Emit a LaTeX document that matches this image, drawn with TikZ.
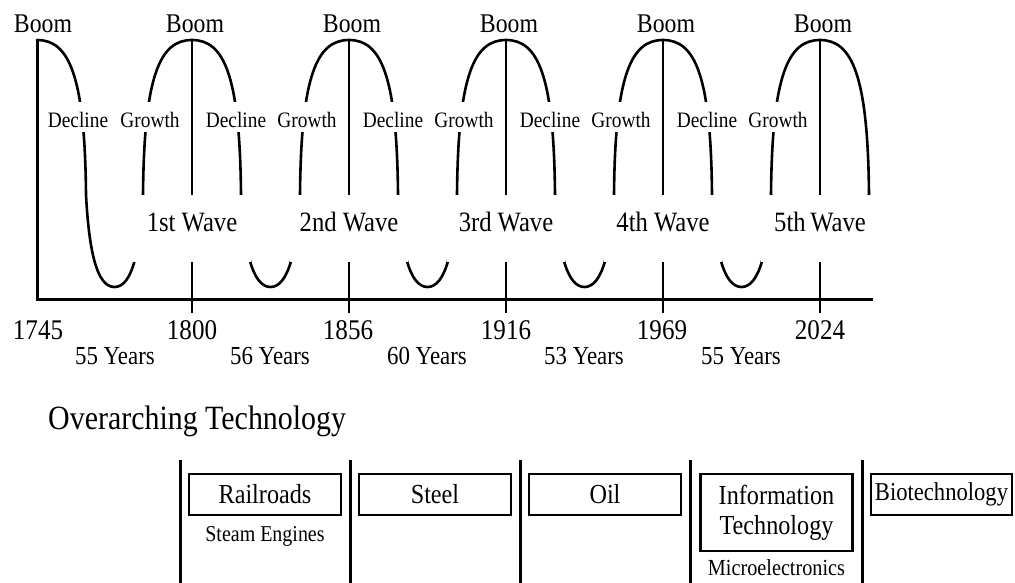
\documentclass[tikz,border=0pt]{standalone}
\usepackage{fontspec}
\setmainfont{Liberation Serif}[FakeStretch=0.88]
\usepackage{tikz}
\usetikzlibrary{positioning}

\begin{document}
\begin{tikzpicture}[x=1pt, y=-1pt,
  wline/.style={line width=2.6pt, line cap=round},
  axisline/.style={line width=3pt},
  peakline/.style={line width=2.6pt},
  boomlbl/.style={inner sep=1pt, font=\fontsize{27}{29}\selectfont},
  phaselbl/.style={fill=white, inner sep=2pt, minimum height=30pt, text height=20.5pt, text depth=0pt, font=\fontsize{22}{24}\selectfont},
  wavelbl/.style={fill=white, inner sep=0pt, minimum width=118pt, minimum height=67pt, text height=18.5pt, text depth=12pt, font=\fontsize{28}{30}\selectfont},
  yearlbl/.style={inner sep=1pt, font=\fontsize{28.5}{30}\selectfont},
  spanlbl/.style={inner sep=1pt, font=\fontsize{26}{28}\selectfont},
  tbox/.style={draw, line width=2.5pt, minimum width=152pt, minimum height=41pt, inner sep=3pt, align=center, font=\fontsize{27.5}{30}\selectfont},
  sublbl/.style={inner sep=1pt, font=\fontsize{22.7}{24}\selectfont},
  sepline/.style={line width=3pt}
]
\useasboundingbox (0,0) rectangle (1015,582);

\draw[axisline] (37,40) -- (37,299) -- (873,299);

\foreach \a/\b in {37/192, 192/349, 349/506, 506/663, 663/820} {
  \pgfmathsetmacro\m{(\a+\b)/2}
  \draw[wline] (\a,40) .. controls ({\a+32},40) and ({\a+48},75) .. ({\a+49},195)
    .. controls ({\a+52},250) and ({\m-18},287) .. (\m,287)
    .. controls ({\m+18},287) and ({\b-52},250) .. ({\b-49},195)
    .. controls ({\b-48},75) and ({\b-32},40) .. (\b,40);
}
\draw[wline] (820,40) .. controls (852,40) and (868,75) .. (869,195);

\foreach \c in {192,349,506,663,820}
  \draw[peakline] (\c,40) -- (\c,313);

\node[boomlbl] (boom0) at (43,24) {Boom};
\foreach \c [count=\i] in {192,349,506,663,820}
  \node[boomlbl] (boom\i) at ({\c+3},24) {Boom};

\node[phaselbl] (dec0) at (78,117) {Decline};
\foreach \c [count=\i] in {192,349,506,663}
  \node[phaselbl] (dec\i) at ({\c+44},117) {Decline};
\foreach \c [count=\i] in {192,349,506,663,820}
  \node[phaselbl] (gro\i) at ({\c-42},117) {Growth};

\foreach \c/\t [count=\i] in {192/1st Wave, 349/2nd Wave, 506/3rd Wave, 663/4th Wave, 820/5th\,Wave}
  \node[wavelbl] (wave\i) at (\c,228.5) {\t};

\foreach \yr/\c in {1745/38, 1800/192, 1856/348, 1916/506, 1969/662, 2024/820}
  \node[yearlbl] (yr\yr) at (\c,330) {\yr};
\foreach \yrs/\c [count=\i] in {55/115, 56/270, 60/427, 53/584, 55/741}
  \node[spanlbl] (span\i) at (\c,356) {\yrs\ Years};

\node[anchor=west, inner sep=0pt, font=\fontsize{34}{36}\selectfont] (overtech) at (48,421) {Overarching Technology};

\foreach \x in {180,350,520,690,862}
  \draw[sepline] (\x,460) -- (\x,585);

\node[tbox] (rail) at (265,494.5) {Railroads};
\node[tbox] (steel) at (435,494.5) {Steel};
\node[tbox] (oil) at (605,494.5) {Oil};
\node[tbox, minimum height=77pt] (info) at (776.5,512.5) {Information\\Technology};
\node[tbox, minimum width=141pt, inner xsep=2pt, font=\fontsize{25.7}{28}\selectfont] (bio) at (941.5,494.5) {Biotechnology};
\node[sublbl, below=9pt of rail] (steam) {Steam Engines};
\node[sublbl, below=6pt of info, font=\fontsize{23}{24}\selectfont] (micro) {Microelectronics};
\end{tikzpicture}
\end{document}
